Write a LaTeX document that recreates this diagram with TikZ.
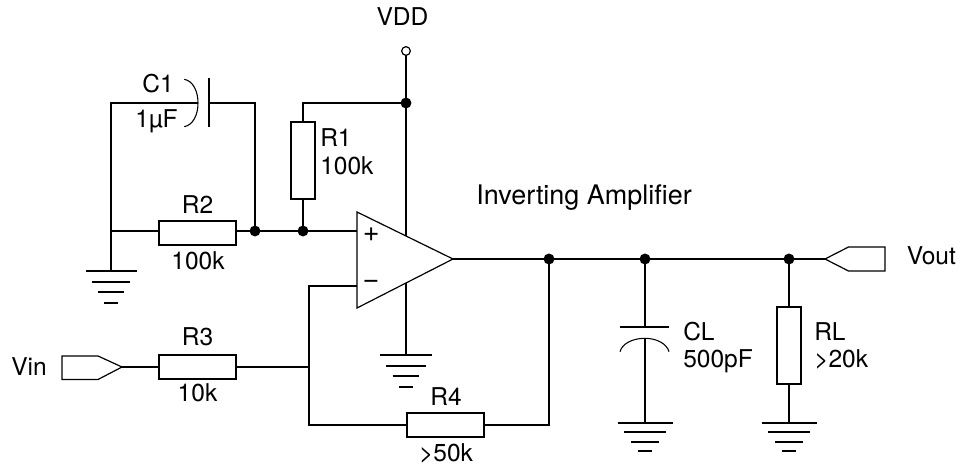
\documentclass[tikz,border=0pt]{standalone}
\usepackage{fontspec}
\setmainfont{TeX Gyre Heros}
\begin{document}
\begin{tikzpicture}[x=0.75pt,y=-0.75pt,
  wire/.style={line width=1.35pt},
  thin line/.style={line width=0.9pt},
  rh/.style={draw,line width=1.5pt,fill=white,rectangle,inner sep=0pt,outer sep=0pt,minimum width=57.75pt,minimum height=18pt},
  rv/.style={draw,line width=1.5pt,fill=white,rectangle,inner sep=0pt,outer sep=0pt,minimum width=18pt,minimum height=57.75pt},
  dot/.style={circle,fill=black,inner sep=0pt,outer sep=0pt,minimum size=8.2pt},
  open/.style={circle,draw,line width=0.9pt,fill=white,inner sep=0pt,outer sep=0pt,minimum size=6.5pt},
  lab/.style={inner sep=0pt,font=\fontsize{18.4}{20}\selectfont},
  labl/.style={lab,anchor=base west},
  labc/.style={lab,anchor=base},
  sign/.style={inner sep=0pt,font=\fontsize{21.5}{22}\selectfont},
  gnd/.pic={
    \draw[wire] (-#1/2,0) -- (#1/2,0);
    \draw[wire] (-#1*0.38,11) -- (#1*0.38,11);
    \draw[wire] (-#1*0.255,21) -- (#1*0.255,21);
    \draw[wire] (-#1*0.135,32) -- (#1*0.135,32);
  },
  gndlow/.pic={
    \draw[wire] (-#1/2,0) -- (#1/2,0);
    \draw[wire] (-#1*0.373,9) -- (#1*0.373,9);
    \draw[wire] (-#1*0.255,19) -- (#1*0.255,19);
    \draw[wire] (-#1*0.136,28) -- (#1*0.136,28);
  }]
\useasboundingbox (0,0) rectangle (961,467);
% coordinates
\coordinate (g1) at (111,271);
\coordinate (g2) at (406,355);
\coordinate (g3) at (645,423);
\coordinate (g4) at (789,423);
\coordinate (nw) at (111,103);
\coordinate (cL) at (198,103);
\coordinate (cR) at (209,103);
\coordinate (ne) at (255,103);
\coordinate (r1t) at (303,103);
\coordinate (left) at (111,231);
\coordinate (inp) at (357,231);
\coordinate (inm) at (357,286);
\coordinate (fbt) at (309,286);
\coordinate (fbm) at (309,367);
\coordinate (fbb) at (309,425);
\coordinate (fbr) at (549,425);
\coordinate (up) at (406,236);
\coordinate (down) at (406,283);
\coordinate (oa1) at (357,212);
\coordinate (oa2) at (357,308);
\coordinate (oa3) at (453,259);
\coordinate (vintip) at (122,367);
\coordinate (vouttip) at (825,259);
\coordinate (cp1) at (645,326.7);
\coordinate (cp2) at (645,338.3);
% parts
\node[rh] (R2) at (197.5,232.8) {};
\node[rh] (R3) at (197.5,367) {};
\node[rh] (R4) at (445.5,425) {};
\node[rv] (R1) at (303,160.3) {};
\node[rv] (RL) at (789,345.3) {};
\node[open] (vdd) at (406,51) {};
\node[dot] (jv) at (406,103) {};
\node[dot] (j1) at (255,231) {};
\node[dot] (j2) at (303,231) {};
\node[dot] (j3) at (549,259) {};
\node[dot] (j4) at (645,259) {};
\node[dot] (j5) at (789,259) {};
% wires
\draw[wire] (g1) -- (nw) -- (cL);
\draw[wire] (cR) -- (ne) -- (j1);
\draw[wire] (left) -- (R2.west |- left);
\draw[wire] (R2.east |- j1) -- (j1) -- (j2) -- (inp);
\draw[wire] (j2) -- (R1.south);
\draw[wire] (R1.north) -- (r1t) -- (jv);
\draw[wire] (vdd) -- (jv) -- (up);
\draw[wire] (down) -- (g2);
\draw[wire] (inm) -- (fbt) -- (fbb) -- (R4.west);
\draw[wire] (R4.east) -- (fbr) -- (j3);
\draw[wire] (vintip) -- (R3.west);
\draw[wire] (R3.east) -- (fbm);
\draw[wire] (oa3) -- (vouttip);
\draw[wire] (j4) -- (cp1);
\draw[wire] (cp2) -- (g3);
\draw[wire] (j5) -- (RL.north);
\draw[wire] (RL.south) -- (g4);
% capacitors
\draw[wire] (209,78.5) -- (209,127.5);
\draw[line width=0.8pt] (184.3,79.3) .. controls (193,81) and (198,91) .. (cL) .. controls (198,115) and (193,125) .. (184.3,126.7);
\draw[wire] (620,326.7) -- (669,326.7);
\draw[line width=0.8pt] (620,351.7) .. controls (622,344) and (632,338.3) .. (cp2) .. controls (657,338.3) and (667,344) .. (669,351.7);
% op amp
\draw[thin line,line join=miter] (oa1) -- (oa3) -- (oa2) -- cycle;
% terminals
\draw[thin line,line join=miter] (vintip) -- (98,356) -- (62,356) -- (62,379.5) -- (98,379.5) -- cycle;
\draw[thin line,line join=miter] (vouttip) -- (848.5,247) -- (885,247) -- (885,271) -- (848.5,271) -- cycle;
% grounds
\path (g1) pic {gnd=51};
\path (g2) pic {gnd=52.7};
\path (g3) pic {gndlow=55};
\path (g4) pic {gndlow=55};
% labels
\node[labc] (tVDD) at (402.5,26) {VDD};
\node[labc] (tC1) at (158,92.7) {C1};
\node[labc] (tC1v) at (156.5,127.7) {1µF};
\node[labl] (tR1) at (320,146.7) {R1};
\node[labl] (tR1v) at (320,174.3) {100k};
\node[labc] (tR2) at (197.5,213.7) {R2};
\node[labc] (tR2v) at (198,269.3) {100k};
\node[labc] (tR3) at (197.5,345) {R3};
\node[labc] (tR3v) at (197.5,401.7) {10k};
\node[labc] (tR4) at (446,405) {R4};
\node[labc] (tR4v) at (446,461) {>50k};
\node[labl] (tVin) at (11,375.7) {Vin};
\node[labl] (tCL) at (683,340) {CL};
\node[labl] (tCLv) at (683,367.7) {500pF};
\node[labl] (tRL) at (814,340) {RL};
\node[labl] (tRLv) at (814,367.7) {>20k};
\node[labl] (tVout) at (906.5,264.3) {Vout};
\node[labl,font=\fontsize{20.2}{22}\selectfont] (tAmp) at (476,204) {Inverting Amplifier};
\node[sign] (tp) at (371.3,234.3) {+};
\node[sign] (tm) at (371,284.3) {−};
\end{tikzpicture}
\end{document}
